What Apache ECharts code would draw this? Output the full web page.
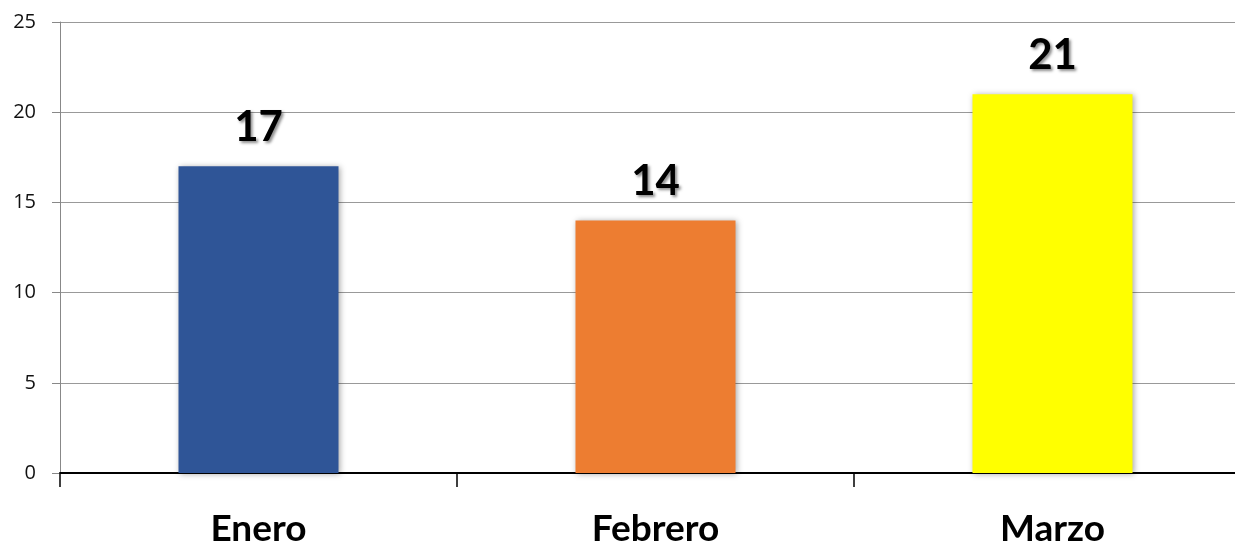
<!DOCTYPE html>
<html><head><meta charset="utf-8">
<script src="https://cdn.jsdelivr.net/npm/echarts@6/dist/echarts.min.js"></script>
<style>html,body{margin:0;padding:0;background:#fff}#c{width:1235px;height:547px}</style>
</head><body><div id="c"></div>
<script>
const categories = ['Enero', 'Febrero', 'Marzo'];
const values = [17, 14, 21];
const barColors = ['#2F5597', '#ED7D31', '#FFFF00'];
const yTicks = [0, 5, 10, 15, 20, 25];

const chart = echarts.init(document.getElementById('c'), null, {renderer: 'canvas'});
chart.setOption({
  animation: false,
  grid: {left: 60, top: 22, right: -16, bottom: 74, containLabel: false, outerBoundsMode: 'none'},
  xAxis: {
    type: 'category', data: categories,
    axisLine: {lineStyle: {color: '#000', width: 2}},
    axisTick: {show: true, length: 14, lineStyle: {color: '#000', width: 1.5}},
    axisLabel: {margin: 38, fontFamily: 'Lato', fontWeight: 'bold', fontSize: 37, color: '#000'},
    splitLine: {show: false}
  },
  yAxis: {
    type: 'value', min: yTicks[0], max: yTicks[yTicks.length - 1], interval: 5,
    axisLine: {show: true, lineStyle: {color: '#888', width: 1}},
    axisTick: {show: true, inside: false, length: 8, lineStyle: {color: '#888'}},
    axisLabel: {margin: 24, fontFamily: 'Open Sans', fontSize: 20, color: '#111'},
    splitLine: {lineStyle: {color: '#999', width: 1}}
  },
  series: [{
    type: 'bar',
    data: values.map((v, i) => ({value: v, itemStyle: {color: barColors[i]}})),
    barWidth: 160,
    itemStyle: {shadowBlur: 6, shadowColor: 'rgba(0,0,0,0.35)', shadowOffsetX: 1, shadowOffsetY: 1},
    label: {
      show: true, position: 'top', distance: 18,
      fontFamily: 'Lato', fontWeight: 'bold', fontSize: 42, color: '#000',
      textShadowColor: 'rgba(0,0,0,0.45)', textShadowBlur: 3, textShadowOffsetX: 2, textShadowOffsetY: 2
    }
  }]
});
</script></body></html>
